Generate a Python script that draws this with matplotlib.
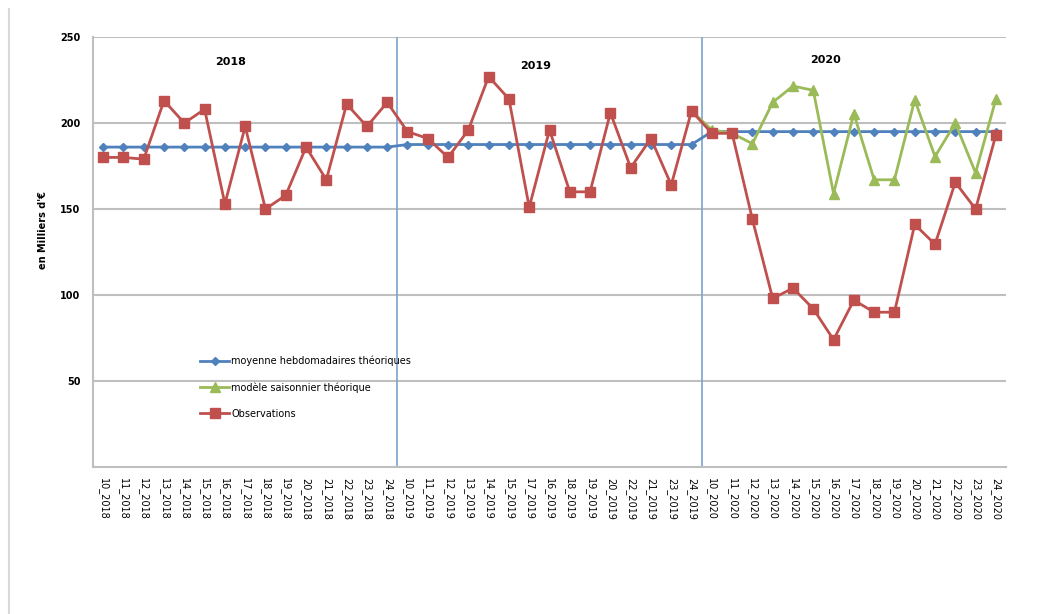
import numpy as np
import matplotlib
matplotlib.use('Agg')
import matplotlib.pyplot as plt
import matplotlib.ticker as ticker

weeks_2018 = ['10', '11', '12', '13', '14', '15', '16', '17', '18', '19', '20', '21', '22', '23', '24']
weeks_2019 = ['10', '11', '12', '13', '14', '15', '17', '16', '18', '19', '20', '22', '21', '23', '24']
weeks_2020 = ['10', '11', '12', '13', '14', '15', '16', '17', '18', '19', '20', '21', '22', '23', '24']
labels = ([w + '_2018' for w in weeks_2018] + [w + '_2019' for w in weeks_2019]
          + [w + '_2020' for w in weeks_2020])

moyenne = [186] * 15 + [187.5] * 15 + [195] * 15

modele = [np.nan] * 29 + [207, 196, 194, 188, 212, 221.5, 219, 159, 205.5, 167, 167,
                          213.5, 180.5, 200, 171, 214]

observations = [180, 180, 179, 213, 200, 208, 153, 198, 150, 158, 186, 167, 211, 198, 212,
                195, 191, 180, 196, 227, 214, 151, 196, 160, 160, 206, 174, 191, 164, 207,
                194, 194, 144, 98, 104, 92, 74, 97, 90, 90, 141, 129.5, 165.5, 150, 193]

years = ['2018', '2019', '2020']
year_label_pos = [(6.3, 235.5), (21.3, 233), (35.6, 236.5)]

blue = '#4F81BD'
green = '#9BBB59'
red = '#C0504D'

fig = plt.figure(figsize=(10.63, 6.14), dpi=100)
ax = fig.add_axes([0.0875, 0.2394, 0.8589, 0.7003])

x = np.arange(len(labels))
ax.plot(x, moyenne, color=blue, lw=2, marker='D', ms=4.5, mec=blue,
        label='moyenne hebdomadaires théoriques', zorder=3)
ax.plot(x, modele, color=green, lw=2, marker='^', ms=7, mec=green,
        label='modèle saisonnier théorique', zorder=4)
ax.plot(x, observations, color=red, lw=2, marker='s', ms=7, mec=red,
        label='Observations', zorder=5)

for xv in [14.5, 29.5]:
    ax.axvline(xv, color='#7EA1CE', lw=1.2, zorder=2)

for name, (tx, ty) in zip(years, year_label_pos):
    ax.text(tx, ty, name, fontsize=8, fontweight='bold', ha='center', va='center')

ax.set_xlim(-0.5, len(labels) - 0.5)
ax.set_ylim(0, 250)
ax.yaxis.set_major_locator(ticker.FixedLocator([50, 100, 150, 200, 250]))
ax.set_xticks(x)
ax.set_xticklabels(labels, rotation=-90, fontsize=7)
for t in ax.get_yticklabels():
    t.set_fontsize(7)
    t.set_fontweight('bold')
ax.tick_params(length=0, pad=8)
ax.tick_params(axis='y', pad=9)

ax.grid(axis='y', color='#BFBFBF', lw=1.5, zorder=1)
for side in ['top', 'right']:
    ax.spines[side].set_visible(False)
for side in ['left', 'bottom']:
    ax.spines[side].set_color('#BFBFBF')
    ax.spines[side].set_linewidth(1.5)

ax.set_ylabel("en Milliers d'€", fontsize=7, fontweight='bold')
ax.yaxis.set_label_coords(-0.049, 0.55)

fig.legend(loc='upper left', bbox_to_anchor=(0.18, 0.435), frameon=False, fontsize=7,
           handlelength=3, labelspacing=1.65, handletextpad=0.2)

fig.add_artist(plt.Line2D([0.008, 0.008], [0.0, 0.985], color='#D9D9D9', lw=1.5))

fig.savefig('out.png', dpi=100)
